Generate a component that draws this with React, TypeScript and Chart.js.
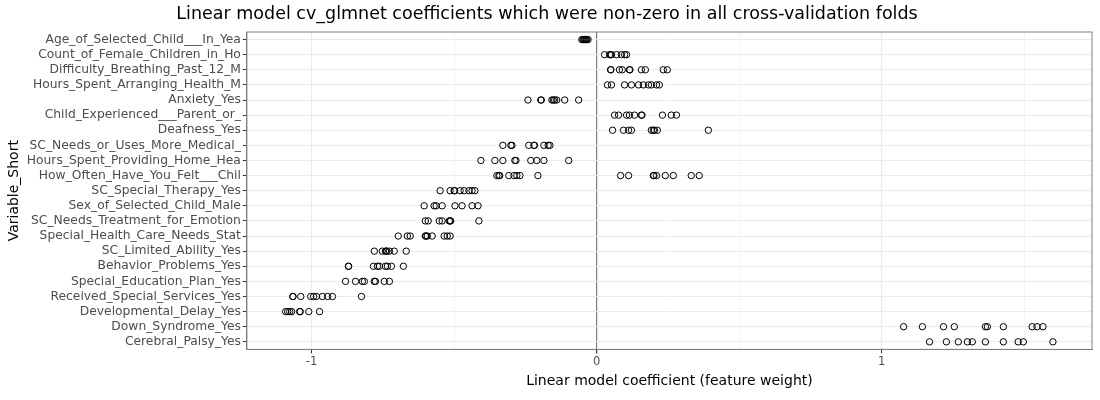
import React, { useEffect, useRef } from "react";
import { Chart, registerables } from "chart.js";
Chart.register(...registerables);

const categories = [
  "Age_of_Selected_Child___In_Yea",
  "Count_of_Female_Children_in_Ho",
  "Difficulty_Breathing_Past_12_M",
  "Hours_Spent_Arranging_Health_M",
  "Anxiety_Yes",
  "Child_Experienced___Parent_or_",
  "Deafness_Yes",
  "SC_Needs_or_Uses_More_Medical_",
  "Hours_Spent_Providing_Home_Hea",
  "How_Often_Have_You_Felt___Chil",
  "SC_Special_Therapy_Yes",
  "Sex_of_Selected_Child_Male",
  "SC_Needs_Treatment_for_Emotion",
  "Special_Health_Care_Needs_Stat",
  "SC_Limited_Ability_Yes",
  "Behavior_Problems_Yes",
  "Special_Education_Plan_Yes",
  "Received_Special_Services_Yes",
  "Developmental_Delay_Yes",
  "Down_Syndrome_Yes",
  "Cerebral_Palsy_Yes",
];

const ageVals = [-0.052, -0.048, -0.045, -0.042, -0.04, -0.037, -0.035, -0.03];
const femaleVals = [0.028, 0.045, 0.05, 0.052, 0.07, 0.087, 0.098, 0.105];
const breathingVals = [0.049, 0.05, 0.08, 0.09, 0.115, 0.117, 0.157, 0.171, 0.234, 0.248];
const arrangingVals = [0.038, 0.052, 0.098, 0.122, 0.147, 0.164, 0.182, 0.192, 0.21, 0.22];
const anxietyVals = [-0.241, -0.196, -0.194, -0.157, -0.152, -0.147, -0.14, -0.112, -0.063];
const experiencedVals = [0.063, 0.077, 0.105, 0.115, 0.133, 0.157, 0.159, 0.231, 0.262, 0.28];
const deafnessVals = [0.056, 0.094, 0.112, 0.122, 0.192, 0.199, 0.203, 0.213, 0.392];
const medicalVals = [-0.329, -0.301, -0.297, -0.238, -0.22, -0.218, -0.185, -0.17, -0.164];
const providingVals = [-0.406, -0.357, -0.329, -0.287, -0.283, -0.231, -0.21, -0.185, -0.098];
const feltVals = [-0.35, -0.343, -0.34, -0.308, -0.29, -0.28, -0.269, -0.206, 0.084, 0.112, 0.199, 0.201, 0.21, 0.241, 0.269, 0.332, 0.36];
const therapyVals = [-0.549, -0.514, -0.5, -0.498, -0.479, -0.465, -0.448, -0.437, -0.427];
const sexVals = [-0.605, -0.57, -0.563, -0.542, -0.497, -0.472, -0.437, -0.416];
const emotionVals = [-0.601, -0.591, -0.552, -0.542, -0.517, -0.514, -0.512, -0.413];
const shcnVals = [-0.696, -0.664, -0.654, -0.601, -0.599, -0.594, -0.577, -0.535, -0.524, -0.514];
const limitedVals = [-0.78, -0.752, -0.741, -0.738, -0.736, -0.727, -0.71, -0.668];
const behaviorVals = [-0.871, -0.87, -0.783, -0.769, -0.762, -0.741, -0.734, -0.72, -0.678];
const educationVals = [-0.881, -0.846, -0.822, -0.815, -0.78, -0.776, -0.745, -0.727];
const receivedVals = [-1.066, -1.065, -1.038, -1.003, -0.993, -0.983, -0.962, -0.944, -0.927, -0.825];
const delayVals = [-1.091, -1.084, -1.077, -1.07, -1.042, -1.04, -1.01, -0.972];
const downVals = [1.077, 1.143, 1.217, 1.255, 1.364, 1.371, 1.427, 1.528, 1.545, 1.566];
const palsyVals = [1.168, 1.227, 1.269, 1.301, 1.318, 1.364, 1.427, 1.479, 1.497, 1.601];

const seriesVals = [
  ageVals, femaleVals, breathingVals, arrangingVals, anxietyVals, experiencedVals,
  deafnessVals, medicalVals, providingVals, feltVals, therapyVals, sexVals,
  emotionVals, shcnVals, limitedVals, behaviorVals, educationVals, receivedVals,
  delayVals, downVals, palsyVals,
];

const xTicks = [-1, -0.5, 0, 0.5, 1, 1.5];

export default function App() {
  const ref = useRef<HTMLCanvasElement>(null);
  useEffect(() => {
    document.body.style.margin = "0";
    const points: { x: number; y: string }[] = [];
    seriesVals.forEach((vals, i) => vals.forEach((v) => points.push({ x: v, y: categories[i] })));
    const font = "'DejaVu Sans', sans-serif";
    const chart = new Chart(ref.current!, {
      type: "scatter",
      data: {
        datasets: [
          {
            data: points as any,
            pointStyle: "circle",
            pointRadius: 3.2,
            pointBorderWidth: 1,
            pointBorderColor: "#000",
            pointBackgroundColor: "rgba(0,0,0,0)",
          },
        ],
      },
      options: {
        animation: false,
        responsive: false,
        layout: { padding: { top: 0, right: 8, left: 2, bottom: 6 } },
        plugins: {
          legend: { display: false },
          tooltip: { enabled: false },
          title: {
            display: true,
            text: "Linear model cv_glmnet coefficients which were non-zero in all cross-validation folds",
            color: "#000",
            font: { family: font, size: 17.5, weight: "normal" },
            padding: { top: 4, bottom: 7 },
          },
        },
        scales: {
          x: {
            type: "linear",
            min: -1.227,
            max: 1.738,
            afterBuildTicks: (axis: any) => {
              axis.ticks = xTicks.map((v) => ({ value: v }));
            },
            ticks: {
              color: "#4d4d4d",
              font: { family: font, size: 11.5 },
              callback: (v: any) => (Number.isInteger(v) ? String(v) : ""),
              padding: 2,
            },
            grid: {
              color: (c: any) =>
                c.tick && c.tick.value === 0 ? "#7f7f7f" : Number.isInteger(c.tick?.value) ? "#ebebeb" : "#f3f3f3",
              lineWidth: (c: any) => (c.tick && c.tick.value === 0 ? 1.2 : 1),
              tickLength: 4,
              tickColor: (c: any) => (Number.isInteger(c.tick?.value) ? "#333" : "rgba(0,0,0,0)"),
            },
            border: { color: "#7f7f7f" },
            title: {
              display: true,
              text: "Linear model coefficient (feature weight)",
              color: "#000",
              font: { family: font, size: 14 },
              padding: { top: 2 },
            },
          },
          y: {
            type: "category",
            labels: categories,
            offset: true,
            ticks: { color: "#4d4d4d", font: { family: font, size: 12.3 }, padding: 2, autoSkip: false },
            grid: { color: "#ebebeb", tickLength: 4, tickColor: "#333" },
            border: { color: "#7f7f7f" },
            title: {
              display: true,
              text: "Variable_Short",
              color: "#000",
              font: { family: font, size: 14 },
              padding: { bottom: 2 },
            },
          },
        },
      },
      plugins: [
        {
          id: "frame",
          afterDraw: (ch: any) => {
            const { ctx, chartArea: a } = ch;
            ctx.save();
            ctx.strokeStyle = "#7f7f7f";
            ctx.lineWidth = 1;
            ctx.strokeRect(a.left, a.top, a.right - a.left, a.bottom - a.top);
            ctx.restore();
          },
        },
      ],
    } as any);
    return () => chart.destroy();
  }, []);
  return <canvas ref={ref} width={1100} height={400} style={{ display: "block" }} />;
}
